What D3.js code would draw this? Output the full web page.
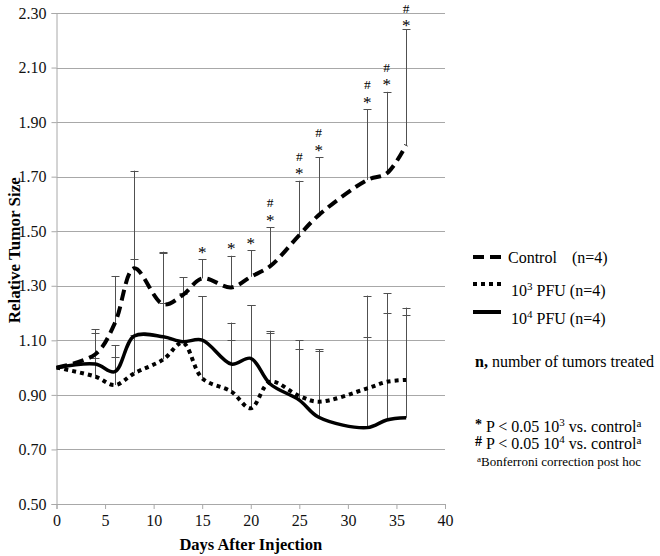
<!DOCTYPE html>
<html>
<head>
<meta charset="utf-8">
<script src="https://cdn.jsdelivr.net/npm/d3@7"></script>
<style>
  html, body { margin: 0; padding: 0; background: #fff; }
  svg, svg text { font-family: "Liberation Serif", "Times New Roman", Times, serif; }
</style>
</head>
<body>
<svg id="chart" width="660" height="556"></svg>
<script>
// ---- data ----
const days = [0, 4, 6, 8, 11, 13, 15, 18, 20, 22, 25, 27, 32, 34, 36];
const control = [1.00, 1.049, 1.162, 1.364, 1.232, 1.266, 1.327, 1.294, 1.333, 1.372, 1.486, 1.559, 1.688, 1.712, 1.816];
const pfu3 = [1.00, 0.967, 0.936, 0.979, 1.030, 1.091, 0.961, 0.912, 0.851, 0.948, 0.896, 0.875, 0.924, 0.948, 0.955];
const pfu4 = [1.00, 1.013, 0.985, 1.116, 1.113, 1.095, 1.101, 1.013, 1.034, 0.940, 0.881, 0.818, 0.780, 0.808, 0.816];
// upper ends of the error bars (null = none)
const controlUpper = [null, 1.140, 1.336, 1.722, 1.425, 1.331, 1.397, 1.410, 1.431, 1.514, 1.685, 1.772, 1.948, 2.011, 2.241];
const pfu3Upper = [null, 1.126, 1.083, 1.120, 1.420, 1.270, 1.262, 1.165, 1.229, 1.135, 1.101, 1.067, 1.264, 1.272, 1.220];
const pfu4Upper = [null, 1.034, 1.040, 1.397, 1.236, 1.272, 1.262, 1.101, 1.229, 1.126, 1.067, 1.061, 1.113, 1.201, 1.193];
const starDays = [15, 18, 20, 22, 25, 27, 32, 34, 36];   // * P<0.05 10^3 vs control
const hashDays = [22, 25, 27, 32, 34, 36];               // # P<0.05 10^4 vs control
const yTicks = [0.50, 0.70, 0.90, 1.10, 1.30, 1.50, 1.70, 1.90, 2.10, 2.30];
const xTicks = [0, 5, 10, 15, 20, 25, 30, 35, 40];

// ---- layout ----
const FONT = "'Liberation Serif', 'Times New Roman', Times, serif";
const svg = d3.select("#chart");
const x = d3.scaleLinear().domain([0, 40]).range([56.5, 445]);
const y = d3.scaleLinear().domain([0.5, 2.3]).range([504, 13]);
const gridColor = "#a8a8a8";
const fontSize = 16;

// gridlines
svg.append("g").selectAll("line").data(yTicks.slice(1)).join("line")
  .attr("x1", x(0)).attr("x2", x(40))
  .attr("y1", d => Math.round(y(d)) + 0.5).attr("y2", d => Math.round(y(d)) + 0.5)
  .attr("stroke", gridColor).attr("stroke-width", 1);

// axes
const yAxis = svg.append("g").attr("transform", `translate(${x(0)},0)`)
  .call(d3.axisLeft(y).tickValues(yTicks).tickFormat(d3.format(".2f")).tickSize(5).tickPadding(5));
const xAxis = svg.append("g").attr("transform", `translate(0,${y(0.5)})`)
  .call(d3.axisBottom(x).tickValues(xTicks).tickSize(5).tickPadding(6));
[yAxis, xAxis].forEach(a => {
  a.attr("font-family", FONT).attr("font-size", fontSize);
  a.select(".domain").attr("stroke", gridColor);
  a.selectAll(".tick line").attr("stroke", gridColor);
  a.selectAll("text").attr("font-family", FONT).attr("font-size", fontSize).attr("fill", "#111");
});

// axis titles
svg.append("text").attr("x", (x(0) + x(40)) / 2).attr("y", 550)
  .attr("font-family", FONT).attr("text-anchor", "middle").attr("font-weight", "bold").attr("font-size", 16.5)
  .text("Days After Injection");
svg.append("text").attr("transform", `translate(20,${y(1.43)}) rotate(-90)`)
  .attr("font-family", FONT).attr("text-anchor", "middle").attr("font-weight", "bold").attr("font-size", 17)
  .text("Relative Tumor Size");

// error bars
const series = [
  {vals: control, upper: controlUpper},
  {vals: pfu3, upper: pfu3Upper},
  {vals: pfu4, upper: pfu4Upper}
];
const eb = svg.append("g").attr("stroke", "#505050").attr("stroke-width", 1);
series.forEach(s => {
  days.forEach((d, i) => {
    if (s.upper[i] == null) return;
    const cx = Math.round(x(d)) + 0.5;
    eb.append("line").attr("x1", cx).attr("x2", cx).attr("y1", y(s.vals[i])).attr("y2", y(s.upper[i]));
    eb.append("line").attr("x1", cx - 4).attr("x2", cx + 4)
      .attr("y1", Math.round(y(s.upper[i])) + 0.5).attr("y2", Math.round(y(s.upper[i])) + 0.5);
  });
});

// lines
const line = d3.line().x((d, i) => x(days[i])).y(d => y(d)).curve(d3.curveCatmullRom.alpha(0.5));
const styles = [
  {vals: control, dash: "11,6", width: 4},
  {vals: pfu3, dash: "4,4", width: 4},
  {vals: pfu4, dash: null, width: 3.5}
];
styles.forEach(s => {
  svg.append("path").attr("d", line(s.vals)).attr("fill", "none")
    .attr("stroke", "#000").attr("stroke-width", s.width)
    .attr("stroke-dasharray", s.dash);
});

// significance marks: "*" just above the control cap, "#" above it
const ann = svg.append("g").attr("font-family", FONT).attr("text-anchor", "middle").attr("fill", "#000");
starDays.forEach(d => {
  const i = days.indexOf(d);
  const cap = y(controlUpper[i]);
  const hashY = hashDays.includes(d) ? Math.max(cap - 20, 12.5) : null;
  const starY = hashY == null ? cap - 1.5 : Math.max(cap - 1.5, hashY + 18.5);
  ann.append("text").attr("x", x(d)).attr("y", starY).attr("font-size", 17).text("*");
  if (hashY != null) {
    ann.append("text").attr("x", x(d)).attr("y", hashY).attr("font-size", 13.5).text("#");
  }
});

// legend
const lg = svg.append("g").attr("font-family", FONT);
const legendItems = [
  {dash: "11,6", width: 4, y: 257, len: 34},
  {dash: "4,4", width: 4, y: 284, len: 29},
  {dash: null, width: 4, y: 312, len: 28}
];
legendItems.forEach(it => {
  lg.append("line").attr("x1", 473).attr("x2", 473 + it.len).attr("y1", it.y).attr("y2", it.y)
    .attr("stroke", "#000").attr("stroke-width", it.width).attr("stroke-dasharray", it.dash);
});
lg.append("text").attr("x", 508).attr("y", 263).attr("font-size", fontSize).text("Control");
lg.append("text").attr("x", 572).attr("y", 263).attr("font-size", fontSize).text("(n=4)");
function pfuLabel(yy, exp) {
  const t = lg.append("text").attr("x", 511).attr("y", yy).attr("font-size", fontSize);
  t.append("tspan").text("10");
  t.append("tspan").attr("font-size", 11).attr("dy", -6).text(exp);
  t.append("tspan").attr("dy", 6).text(" PFU (n=4)");
}
pfuLabel(296, "3");
pfuLabel(324, "4");

const nt = lg.append("text").attr("x", 475).attr("y", 367).attr("font-size", fontSize);
nt.append("tspan").attr("font-weight", "bold").text("n,");
nt.append("tspan").text(" number of tumors treated");

function sigLabel(yy, sym, exp) {
  const t = lg.append("text").attr("x", 475).attr("y", yy).attr("font-size", fontSize);
  t.append("tspan").attr("font-size", 14).attr("font-weight", "bold").attr("dy", -3).text(sym);
  t.append("tspan").attr("dy", 3).text(" P < 0.05 10");
  t.append("tspan").attr("font-size", 11).attr("dy", -6).text(exp);
  t.append("tspan").attr("dy", 6).text(" vs. control");
  t.append("tspan").attr("font-size", 11).attr("dy", -5).text("a");
}
sigLabel(432, "*", "3");
sigLabel(449, "#", "4");
const bt = lg.append("text").attr("x", 477).attr("y", 466).attr("font-size", 13);
bt.append("tspan").attr("font-size", 9).attr("dy", -4).text("a");
bt.append("tspan").attr("dy", 4).text("Bonferroni correction post hoc");
</script>
</body>
</html>
